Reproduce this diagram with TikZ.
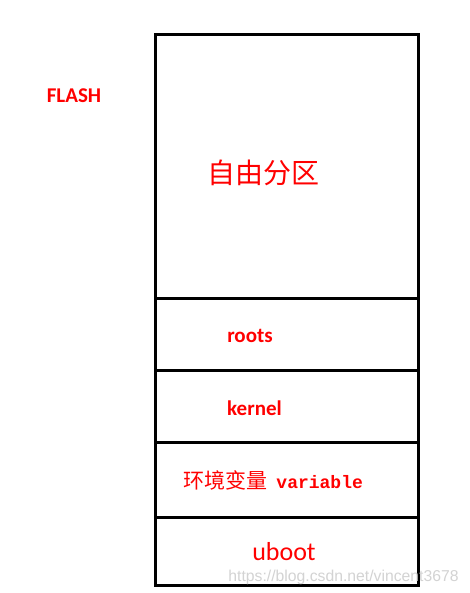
\documentclass[tikz,border=0pt]{standalone}
\usepackage{fontspec}
\setmainfont{Carlito}
\newfontfamily\cjkfont{Noto Sans CJK SC}
\newfontfamily\monofont{Liberation Mono}
\newfontfamily\wmfont{Liberation Sans}
\definecolor{lblred}{RGB}{255,0,0}
\definecolor{wmgray}{RGB}{200,200,200}
\tikzset{
  frame/.style={line width=2.25pt, draw=black},
  boldlbl/.style={text=lblred, font=\bfseries\fontsize{15.75pt}{18pt}\selectfont, inner sep=0pt},
}
\begin{document}
\begin{tikzpicture}[x=0.75pt,y=-0.75pt]
\useasboundingbox (0,0) rectangle (469,593);
\fill[white] (0,0) rectangle (469,593);
% stack
\draw[frame] (155,34) rectangle (418,585);
\coordinate (l1) at (155,298); \coordinate (r1) at (418,298);
\coordinate (l2) at (155,370); \coordinate (r2) at (418,370);
\coordinate (l3) at (155,442); \coordinate (r3) at (418,442);
\coordinate (l4) at (155,517); \coordinate (r4) at (418,517);
\draw[frame] (l1) -- (r1);
\draw[frame] (l2) -- (r2);
\draw[frame] (l3) -- (r3);
\draw[frame] (l4) -- (r4);
% labels
\node[boldlbl] (flash) at (74,96) {FLASH};
\node[text=lblred, font=\cjkfont\fontsize{21pt}{24pt}\selectfont, inner sep=0pt] (free) at (263.5,173) {自由分区};
\node[boldlbl] (roots) at (250,336) {roots};
\node[boldlbl] (kernel) at (254.5,408) {kernel};
\node[text=lblred, inner sep=0pt] (env) at (273,480) {{\cjkfont\fontsize{15.75pt}{18pt}\selectfont 环境变量}\hspace{7pt}{\monofont\bfseries\fontsize{13.5pt}{16pt}\selectfont variable}};
\node[text=lblred, font=\fontsize{19.5pt}{22pt}\selectfont, inner sep=0pt] (uboot) at (284,552) {uboot};
\node[text=wmgray, font=\wmfont\fontsize{11.8pt}{14pt}\selectfont, inner sep=0pt, opacity=0.8] (wm) at (343.5,577) {https://blog.csdn.net/vincent3678};
\end{tikzpicture}
\end{document}
